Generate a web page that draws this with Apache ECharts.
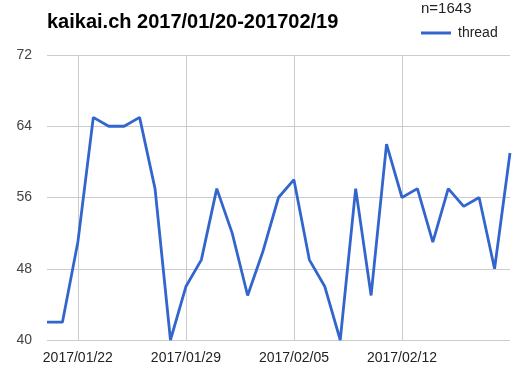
<!DOCTYPE html>
<html><head><meta charset="utf-8">
<script src="https://cdn.jsdelivr.net/npm/echarts@6/dist/echarts.min.js"></script>
<style>html,body{margin:0;padding:0;background:#fff}#c{width:520px;height:376px}</style>
</head><body><div id="c"></div>
<script>
var titleText = 'kaikai.ch 2017/01/20-201702/19';
var countText = 'n=1643';
var seriesName = 'thread';
var dates = [];
(function(){
  var d = new Date(Date.UTC(2017,0,20));
  for (var i=0;i<31;i++){
    var y=d.getUTCFullYear(), m=('0'+(d.getUTCMonth()+1)).slice(-2), dd=('0'+d.getUTCDate()).slice(-2);
    dates.push(y+'/'+m+'/'+dd);
    d.setUTCDate(d.getUTCDate()+1);
  }
})();
var threadValues = [42,42,51,65,64,64,65,57,40,46,49,57,52,45,50,56,58,49,46,40,57,45,62,56,57,51,57,55,56,48,61];
var yTicks = [40,48,56,64,72];
var labelDates = ['2017/01/22','2017/01/29','2017/02/05','2017/02/12'];

var chart = echarts.init(document.getElementById('c'));
function showIdx(i){ return labelDates.indexOf(dates[i]) >= 0; }
chart.setOption({
  animation:false,
  textStyle:{fontFamily:'Liberation Sans, Arial, sans-serif'},
  title:[{text:titleText,left:47,top:12,padding:0,textStyle:{fontSize:20,fontWeight:'bold',color:'#000',fontFamily:'Liberation Sans, Arial'}},
         {text:countText,left:421,top:1,padding:0,textStyle:{fontSize:15,fontWeight:'normal',color:'#222',fontFamily:'Liberation Sans, Arial'}}],
  legend:{data:[{name:seriesName,icon:'rect'}],left:421,top:26,padding:0,itemWidth:30,itemHeight:3,itemGap:6,
    textStyle:{fontSize:14,color:'#222',padding:[0,0,0,2]}},
  grid:{left:47,right:10,top:55,bottom:36},
  xAxis:{type:'category',data:dates,boundaryGap:false,
    axisLine:{show:false},axisTick:{show:false},
    axisLabel:{interval:function(i){return showIdx(i);},fontSize:14,color:'#222',margin:11},
    splitLine:{show:true,interval:function(i){return showIdx(i);},lineStyle:{color:'#cccccc',width:1}}},
  yAxis:{type:'value',min:yTicks[0],max:yTicks[yTicks.length-1],interval:8,
    axisLine:{show:false},axisTick:{show:false},
    axisLabel:{fontSize:14,color:'#444',margin:15},
    splitLine:{lineStyle:{color:'#cccccc',width:1}}},
  series:[{name:seriesName,type:'line',data:threadValues,symbol:'none',
    lineStyle:{color:'#3366cc',width:2.8},itemStyle:{color:'#3366cc'}}]
});
</script></body></html>
